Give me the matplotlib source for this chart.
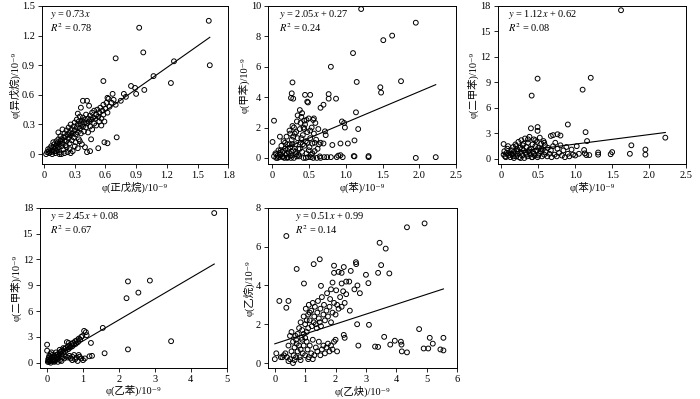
import numpy as np
import matplotlib
matplotlib.use('Agg')
import matplotlib.pyplot as plt

plt.rcParams['font.family'] = ['Liberation Serif', 'Noto Sans CJK SC', 'DejaVu Serif']
plt.rcParams['mathtext.fontset'] = 'stix'
plt.rcParams['font.size'] = 7.5

#%% data: panel 1, 正戊烷 vs 异戊烷
x1 = [1.61, 1.62, 0.93, 0.97, 0.70, 1.27, 1.07, 1.24, 0.98, 0.90, 0.85, 0.89, 0.58, 0.78, 0.80, 0.75,
      0.70, 0.71, 0.59, 0.62, 0.53, 0.42, 0.45, 0.46, 0.67, 0.63, 0.38, 0.42, 0.36, 0.44, 0.33,
      0.02, 0.03, 0.04, 0.05, 0.05, 0.06, 0.07, 0.07, 0.08, 0.08, 0.09, 0.10, 0.10, 0.11, 0.11, 0.12,
      0.12, 0.13, 0.13, 0.14, 0.14, 0.15, 0.15, 0.16, 0.16, 0.17, 0.17, 0.18, 0.18, 0.19, 0.19, 0.20,
      0.20, 0.21, 0.21, 0.22, 0.22, 0.23, 0.23, 0.24, 0.24, 0.25, 0.25, 0.26, 0.26, 0.27, 0.27, 0.28,
      0.28, 0.29, 0.29, 0.30, 0.30, 0.31, 0.31, 0.32, 0.32, 0.33, 0.33, 0.34, 0.34, 0.35, 0.35, 0.36,
      0.36, 0.37, 0.37, 0.38, 0.38, 0.39, 0.39, 0.40, 0.40, 0.41, 0.41, 0.42, 0.43, 0.43, 0.44, 0.45,
      0.45, 0.46, 0.47, 0.47, 0.48, 0.49, 0.49, 0.50, 0.51, 0.51, 0.52, 0.53, 0.54, 0.54, 0.55, 0.56,
      0.56, 0.57, 0.58, 0.58, 0.59, 0.60, 0.61, 0.62, 0.62, 0.64, 0.66, 0.68, 0.25, 0.20, 0.15, 0.30,
      0.12, 0.09, 0.14, 0.17, 0.26, 0.35, 0.33, 0.22]
y1 = [1.35, 0.90, 1.28, 1.03, 0.97, 0.94, 0.79, 0.72, 0.65, 0.61, 0.69, 0.67, 0.74, 0.61, 0.58, 0.54,
      0.50, 0.17, 0.12, 0.11, 0.06, 0.02, 0.03, 0.15, 0.61, 0.56, 0.54, 0.54, 0.47, 0.49, 0.41,
      0.00, 0.02, 0.05, 0.01, 0.03, 0.06, 0.02, 0.08, 0.04, 0.00, 0.07, 0.03, 0.10, 0.06, 0.01, 0.09,
      0.13, 0.04, 0.11, 0.07, 0.15, 0.10, 0.02, 0.13, 0.18, 0.08, 0.15, 0.25, 0.11, 0.17, 0.05, 0.14,
      0.21, 0.09, 0.18, 0.24, 0.13, 0.20, 0.02, 0.16, 0.27, 0.11, 0.22, 0.19, 0.30, 0.14, 0.25, 0.03,
      0.21, 0.28, 0.17, 0.24, 0.32, 0.12, 0.20, 0.27, 0.35, 0.22, 0.30, 0.15, 0.33, 0.26, 0.38, 0.21,
      0.31, 0.34, 0.10, 0.28, 0.37, 0.23, 0.32, 0.07, 0.35, 0.27, 0.40, 0.31, 0.36, 0.22, 0.33, 0.39,
      0.28, 0.35, 0.42, 0.25, 0.37, 0.31, 0.44, 0.36, 0.40, 0.29, 0.45, 0.38, 0.33, 0.42, 0.47, 0.36,
      0.29, 0.44, 0.40, 0.50, 0.33, 0.46, 0.52, 0.42, 0.57, 0.48, 0.52, 0.55, 0.05, 0.01, 0.00, 0.08,
      0.03, 0.12, 0.22, 0.00, 0.01, 0.13, 0.06, 0.07]

#%% panel 2, 苯 vs 甲苯
x2 = [1.21, 1.95, 1.63, 1.51, 1.10, 0.80, 1.75, 1.15, 0.28, 1.47, 1.48, 0.27, 0.26, 0.29, 0.45, 0.52,
      0.48, 0.49, 0.77, 0.77, 0.87, 1.14, 1.17, 0.03, 0.01, 0.11, 0.98, 0.95, 0.99, 1.12, 0.93, 1.03,
      0.82, 0.70, 1.11, 1.12, 1.31, 1.31, 1.95, 2.22, 0.90, 0.93, 0.96, 0.88, 0.80, 0.75, 0.71, 0.66,
      0.73, 0.72, 0.66, 0.70, 0.66, 0.38, 0.41, 0.56, 0.44,
      0.03, 0.05, 0.06, 0.08, 0.09, 0.10, 0.12, 0.13, 0.14, 0.15, 0.16, 0.17, 0.18, 0.19, 0.20, 0.21,
      0.22, 0.23, 0.24, 0.25, 0.26, 0.27, 0.28, 0.29, 0.30, 0.31, 0.32, 0.33, 0.34, 0.35, 0.36, 0.37,
      0.38, 0.39, 0.40, 0.41, 0.42, 0.43, 0.44, 0.45, 0.46, 0.47, 0.48, 0.49, 0.50, 0.51, 0.52, 0.53,
      0.54, 0.55, 0.56, 0.57, 0.58, 0.59, 0.60, 0.62, 0.63, 0.65,
      0.12, 0.18, 0.22, 0.25, 0.28, 0.30, 0.32, 0.35, 0.36, 0.40, 0.42, 0.44, 0.47, 0.50, 0.52, 0.55,
      0.58, 0.20, 0.26, 0.34, 0.38, 0.46, 0.53, 0.15, 0.08, 0.39, 0.43, 0.48, 0.29, 0.24, 0.33, 0.57,
      0.61, 0.64, 0.11, 0.21, 0.27]
y2 = [9.80, 8.90, 8.05, 7.75, 6.90, 6.00, 5.05, 5.00, 4.97, 4.65, 4.30, 4.25, 3.95, 3.90, 4.15, 4.15,
      3.70, 3.65, 4.20, 3.90, 3.90, 3.00, 1.90, 2.45, 1.05, 1.40, 2.30, 2.40, 2.00, 1.15, 0.95, 0.95,
      0.85, 0.95, 0.12, 0.10, 0.12, 0.05, 0.00, 0.05, 0.15, 0.18, 0.05, 0.05, 0.05, 0.05, 0.05, 0.00,
      1.50, 1.75, 1.00, 3.50, 3.30, 3.15, 2.95, 2.50, 2.45,
      0.10, 0.30, 0.00, 0.15, 0.50, 0.05, 0.25, 0.80, 0.10, 0.40, 1.10, 0.00, 0.60, 0.20, 1.40, 0.90,
      0.05, 0.35, 1.80, 0.70, 0.15, 1.20, 2.10, 0.50, 0.00, 1.60, 0.90, 0.25, 2.40, 1.30, 0.60, 0.10,
      1.90, 1.00, 2.70, 0.40, 1.50, 0.00, 0.80, 2.20, 1.10, 0.30, 1.70, 0.05, 2.60, 0.70, 1.30, 0.20,
      2.00, 0.95, 0.00, 1.60, 0.45, 2.30, 1.20, 0.60, 1.90, 0.10,
      0.50, 1.00, 0.60, 1.60, 0.90, 2.00, 0.40, 2.80, 0.20, 1.30, 0.90, 1.90, 2.50, 0.50, 1.80, 0.30,
      1.00, 0.30, 0.00, 0.10, 0.60, 0.00, 0.05, 0.05, 0.00, 2.30, 2.00, 1.00, 1.40, 0.90, 1.70, 2.60,
      0.00, 0.90, 0.20, 0.00, 0.40]

#%% panel 3, 苯 vs 二甲苯
x3 = [1.62, 0.49, 1.21, 1.10, 0.41, 0.90, 0.40, 0.49, 0.49, 1.14, 1.16, 2.22, 1.76, 1.95, 1.95, 1.74,
      1.50, 1.48, 1.31, 1.31, 1.19, 1.13, 1.12, 1.15, 0.03, 0.76, 0.70, 0.67, 0.80,
      0.03, 0.04, 0.05, 0.07, 0.08, 0.10, 0.11, 0.12, 0.14, 0.15, 0.16, 0.17, 0.18, 0.19, 0.20, 0.21,
      0.22, 0.23, 0.24, 0.25, 0.26, 0.27, 0.28, 0.29, 0.30, 0.31, 0.32, 0.33, 0.34, 0.35, 0.36, 0.37,
      0.38, 0.39, 0.40, 0.41, 0.42, 0.43, 0.44, 0.45, 0.46, 0.47, 0.48, 0.49, 0.50, 0.51, 0.52, 0.53,
      0.54, 0.55, 0.56, 0.57, 0.58, 0.59, 0.60, 0.62, 0.63, 0.65, 0.67, 0.68, 0.70, 0.72, 0.73, 0.75,
      0.76, 0.78, 0.80, 0.82, 0.84, 0.86, 0.88, 0.90, 0.92, 0.95, 0.97, 1.00, 1.02, 1.05,
      0.06, 0.13, 0.20, 0.26, 0.30, 0.34, 0.38, 0.42, 0.46, 0.50, 0.54, 0.58, 0.22, 0.28, 0.44, 0.36,
      0.16, 0.09]
y3 = [17.5, 9.45, 9.55, 8.15, 7.45, 4.05, 3.60, 3.75, 3.30, 3.15, 2.10, 2.50, 1.60, 1.10, 0.50, 0.60,
      0.80, 0.55, 0.75, 0.50, 0.45, 0.65, 1.05, 0.45, 1.75, 2.90, 2.80, 2.70, 2.75,
      0.5, 0.9, 0.3, 0.7, 1.2, 0.4, 0.8, 0.2, 1.0, 0.5, 1.4, 0.1, 0.8, 1.7, 0.3, 1.1,
      0.6, 2.0, 0.2, 1.3, 0.8, 2.2, 0.4, 1.6, 1.0, 0.1, 2.4, 0.7, 1.4, 0.3, 1.9, 0.9,
      2.6, 0.5, 1.2, 0.2, 1.7, 0.8, 2.3, 0.4, 1.5, 1.0, 2.0, 0.2, 1.3, 0.6, 2.5, 0.9,
      1.8, 0.3, 1.1, 2.1, 0.5, 1.6, 0.8, 0.3, 1.3, 0.6, 1.0, 0.2, 1.5, 0.5, 1.9, 0.3,
      1.2, 0.7, 1.6, 0.4, 1.0, 0.2, 1.4, 0.6, 0.3, 1.1, 0.5, 0.4, 1.5, 0.6,
      0.2, 0.6, 1.5, 0.1, 1.8, 0.5, 1.1, 0.2, 2.2, 0.4, 1.2, 1.9, 0.9, 1.2, 0.6, 2.3,
      0.3, 1.5]

#%% panel 4, 乙苯 vs 二甲苯
x4 = [4.65, 2.25, 2.86, 2.54, 2.21, 1.55, 3.45, 2.25, 1.60, 1.22, 1.25, 1.18, 1.05, 0.00, 0.00, 1.03,
      1.08, 1.10, 0.98,
      0.02, 0.05, 0.08, 0.10, 0.12, 0.15, 0.18, 0.20, 0.22, 0.25, 0.28, 0.30, 0.32, 0.35, 0.38, 0.40,
      0.42, 0.45, 0.48, 0.50, 0.52, 0.55, 0.58, 0.60, 0.62, 0.65, 0.68, 0.70, 0.72, 0.75, 0.78, 0.80,
      0.83, 0.86, 0.88, 0.92, 0.95, 0.55, 0.60, 0.45, 0.35, 0.25, 0.15, 0.05,
      0.03, 0.06, 0.10, 0.12, 0.18, 0.22, 0.28, 0.32, 0.36, 0.42, 0.48, 0.52, 0.58, 0.62, 0.66, 0.70,
      0.75, 0.78, 0.82, 0.85, 0.90, 0.95, 1.00, 0.40, 0.30, 0.20, 0.10, 0.15, 0.25, 0.05, 0.70, 0.88]
y4 = [17.4, 9.45, 9.55, 8.15, 7.50, 4.05, 2.50, 1.55, 1.10, 2.30, 0.80, 0.75, 0.50, 2.10, 1.40, 3.70,
      3.55, 3.20, 3.10,
      0.1, 0.3, 0.2, 0.5, 0.3, 0.6, 0.4, 0.8, 0.6, 0.9, 0.7, 1.0, 0.8, 1.1, 1.3, 1.0,
      1.4, 1.2, 1.6, 1.3, 1.7, 1.5, 1.9, 1.6, 2.0, 1.8, 2.2, 1.9, 2.3, 2.1, 2.5, 2.2,
      2.6, 2.4, 2.8, 2.7, 3.0, 2.4, 2.3, 1.7, 1.5, 1.2, 0.9, 0.6,
      0.4, 0.8, 1.0, 1.2, 0.3, 0.2, 0.4, 0.5, 0.3, 0.6, 0.5, 0.7, 0.6, 0.8, 0.5, 0.7,
      0.9, 0.4, 0.6, 0.2, 0.7, 0.5, 0.3, 0.2, 0.1, 0.1, 0.0, 0.2, 0.5, 0.1, 0.3, 0.9]

#%% panel 5, 乙炔 vs 乙烷
x5 = [0.38, 4.93, 4.35, 3.45, 3.65, 1.48, 1.28, 0.72, 2.67, 2.68, 3.50, 2.27, 1.95, 3.40, 3.77, 3.00,
      2.50, 2.10, 2.20, 1.95, 0.96, 1.52, 3.08, 2.72, 2.62, 2.80, 2.35, 2.45, 2.35, 2.20, 1.90, 1.85,
      2.02, 0.15, 0.45, 0.38, 2.47, 2.71, 3.10, 2.27, 2.30, 3.60, 2.75, 3.30, 3.40, 3.80, 3.95, 4.15,
      4.17, 4.18, 4.35, 4.75, 4.90, 5.05, 5.10, 5.20, 5.45, 5.55, 5.55, 0.00, 0.05, 0.20,
      0.75, 0.80, 0.85, 0.90, 0.95, 1.00, 1.02, 1.05, 1.10, 1.12, 1.15, 1.20, 1.22, 1.25, 1.30, 1.32,
      1.35, 1.40, 1.42, 1.45, 1.50, 1.52, 1.55, 1.60, 1.62, 1.65, 1.70, 1.72, 1.75, 1.80, 1.82, 1.85,
      1.90, 1.95, 2.00, 2.05, 2.10, 2.15, 2.20, 2.25, 2.30, 1.05, 1.15, 1.28, 1.38, 1.48, 0.95, 0.88,
      1.10, 0.70,
      0.35, 0.40, 0.45, 0.50, 0.55, 0.60, 0.62, 0.65, 0.70, 0.72, 0.75, 0.80, 0.82, 0.85, 0.90, 0.92,
      0.95, 1.00, 1.05, 1.08, 1.12, 1.15, 1.20, 1.25, 1.30, 1.35, 1.40, 1.45, 1.50, 1.55, 1.60, 1.65,
      1.70, 1.75, 1.80, 1.85, 1.90, 1.95, 2.00, 2.05, 0.50, 0.55, 0.60, 0.45, 0.68, 1.00, 0.30, 0.25,
      0.65, 0.85, 1.10, 1.25]
y5 = [6.55, 7.20, 7.00, 6.20, 5.90, 5.35, 5.10, 4.85, 5.20, 5.10, 5.05, 4.95, 5.02, 4.65, 4.62, 4.55,
      4.75, 4.70, 4.65, 4.65, 4.10, 3.98, 4.12, 4.00, 3.80, 3.60, 3.55, 4.20, 4.20, 4.10, 4.15, 3.80,
      3.75, 3.20, 3.20, 2.85, 2.70, 2.00, 1.97, 1.45, 1.30, 1.35, 0.90, 0.85, 0.83, 0.95, 1.15, 1.10,
      0.95, 0.60, 0.55, 1.75, 0.75, 0.75, 1.30, 1.00, 0.70, 0.65, 1.30, 0.20, 0.50, 0.30,
      1.5, 1.8, 2.1, 1.7, 2.4, 2.0, 2.8, 1.6, 2.5, 3.0, 2.2, 2.7, 1.9, 3.1, 2.4, 2.9,
      2.0, 2.6, 3.2, 2.3, 2.8, 1.9, 3.4, 2.5, 3.0, 2.2, 2.7, 3.6, 2.4, 2.9, 3.3, 2.1,
      2.6, 3.1, 2.5, 3.0, 2.8, 3.4, 2.9, 3.7, 3.1, 2.2, 2.6, 2.1, 1.8, 2.1, 1.5, 1.3,
      1.8, 1.2,
      0.5, 0.3, 0.9, 0.2, 0.6, 1.1, 0.4, 0.8, 0.3, 1.0, 0.6, 0.9, 0.3, 0.7, 1.2, 0.5,
      0.9, 0.4, 1.1, 0.7, 0.3, 0.9, 0.5, 1.2, 0.4, 0.8, 0.6, 1.1, 0.4, 0.7, 0.9, 0.5,
      0.8, 1.0, 0.6, 0.9, 0.7, 1.1, 1.2, 0.6, 1.4, 1.6, 0.0, 0.1, 1.4, 1.3, 0.4, 0.3,
      0.15, 0.15, 0.2, 0.2]

# fit lines: slope, intercept, x range
fits = [(0.73, 0.0, 0.02, 1.62), (2.05, 0.27, 0.02, 2.22), (1.12, 0.62, 0.02, 2.22),
        (2.45, 0.08, 0.0, 4.65), (0.51, 0.99, 0.0, 5.55)]
eqs = ['$y$ = 0.73$x$', '$y$ = 2.05$x$ + 0.27', '$y$ = 1.12$x$ + 0.62',
       '$y$ = 2.45$x$ + 0.08', '$y$ = 0.51$x$ + 0.99']
r2s = ['$R^2$ = 0.78', '$R^2$ = 0.24', '$R^2$ = 0.08', '$R^2$ = 0.67', '$R^2$ = 0.14']
xlabels = ['φ(正戊烷)/10⁻⁹', 'φ(苯)/10⁻⁹', 'φ(苯)/10⁻⁹', 'φ(乙苯)/10⁻⁹', 'φ(乙炔)/10⁻⁹']
ylabels = ['φ(异戊烷)/10⁻⁹', 'φ(甲苯)/10⁻⁹', 'φ(二甲苯)/10⁻⁹', 'φ(二甲苯)/10⁻⁹', 'φ(乙烷)/10⁻⁹']
xticks = [[0, 0.3, 0.6, 0.9, 1.2, 1.5, 1.8], [0, 0.5, 1.0, 1.5, 2.0, 2.5], [0, 0.5, 1.0, 1.5, 2.0, 2.5],
          [0, 1, 2, 3, 4, 5], [0, 1, 2, 3, 4, 5, 6]]
xticklabels = [['0', '0.3', '0.6', '0.9', '1.2', '1.5', '1.8'], ['0', '0.5', '1.0', '1.5', '2.0', '2.5'],
               ['0', '0.5', '1.0', '1.5', '2.0', '2.5'], ['0', '1', '2', '3', '4', '5'],
               ['0', '1', '2', '3', '4', '5', '6']]
yticks = [[0, 0.3, 0.6, 0.9, 1.2, 1.5], [0, 2, 4, 6, 8, 10], [0, 3, 6, 9, 12, 15, 18],
          [0, 3, 6, 9, 12, 15, 18], [0, 2, 4, 6, 8]]
yticklabels = [['0', '0.3', '0.6', '0.9', '1.2', '1.5'], ['0', '2', '4', '6', '8', '10'],
               ['0', '3', '6', '9', '12', '15', '18'], ['0', '3', '6', '9', '12', '15', '18'],
               ['0', '2', '4', '6', '8']]

xs = [x1, x2, x3, x4, x5]
ys = [y1, y2, y3, y4, y5]

# layout (fig fractions) and limits
pos = [[0.060, 0.589, 0.266, 0.396], [0.383, 0.589, 0.269, 0.396], [0.711, 0.589, 0.269, 0.396],
       [0.057, 0.078, 0.267, 0.401], [0.383, 0.078, 0.270, 0.401]]
xlims = [(-0.02, 1.8), (-0.05, 2.5), (-0.05, 2.5), (-0.2, 5), (-0.22, 6)]
ylims = [(-0.1, 1.5), (-0.4, 10), (-0.6, 18), (-0.6, 18), (-0.25, 8)]
eq_x = [0.045, 0.06, 0.053, 0.054, 0.14]

fig = plt.figure(figsize = (7, 3.99), dpi = 100)
for i in range(5):
    ax = fig.add_axes(pos[i])
    ax.scatter(xs[i], ys[i], s = 12, facecolors = 'none', edgecolors = 'black', linewidths = 0.7, zorder = 3)
    a, b, xa, xb = fits[i]
    fx = np.array([xa, xb])
    ax.plot(fx, a*fx + b, color = 'black', lw = 0.8, zorder = 2)
    ax.set_xlim(xlims[i])
    ax.set_ylim(ylims[i])
    ax.set_xticks(xticks[i])
    ax.set_xticklabels(xticklabels[i])
    ax.set_yticks(yticks[i])
    ax.set_yticklabels(yticklabels[i])
    ax.tick_params(direction = 'out', length = 3, width = 0.6, pad = 2, labelsize = 7.5)
    for sp in ax.spines.values():
        sp.set_linewidth(0.7)
    ax.set_xlabel(xlabels[i], fontsize = 7.5, labelpad = 1)
    ax.set_ylabel(ylabels[i], fontsize = 7.5, labelpad = 1)
    ax.text(eq_x[i], 0.945, eqs[i], transform = ax.transAxes, fontsize = 7.5, va = 'center')
    ax.text(eq_x[i], 0.865, r2s[i], transform = ax.transAxes, fontsize = 7.5, va = 'center')

plt.savefig('out.png', dpi = 100)
